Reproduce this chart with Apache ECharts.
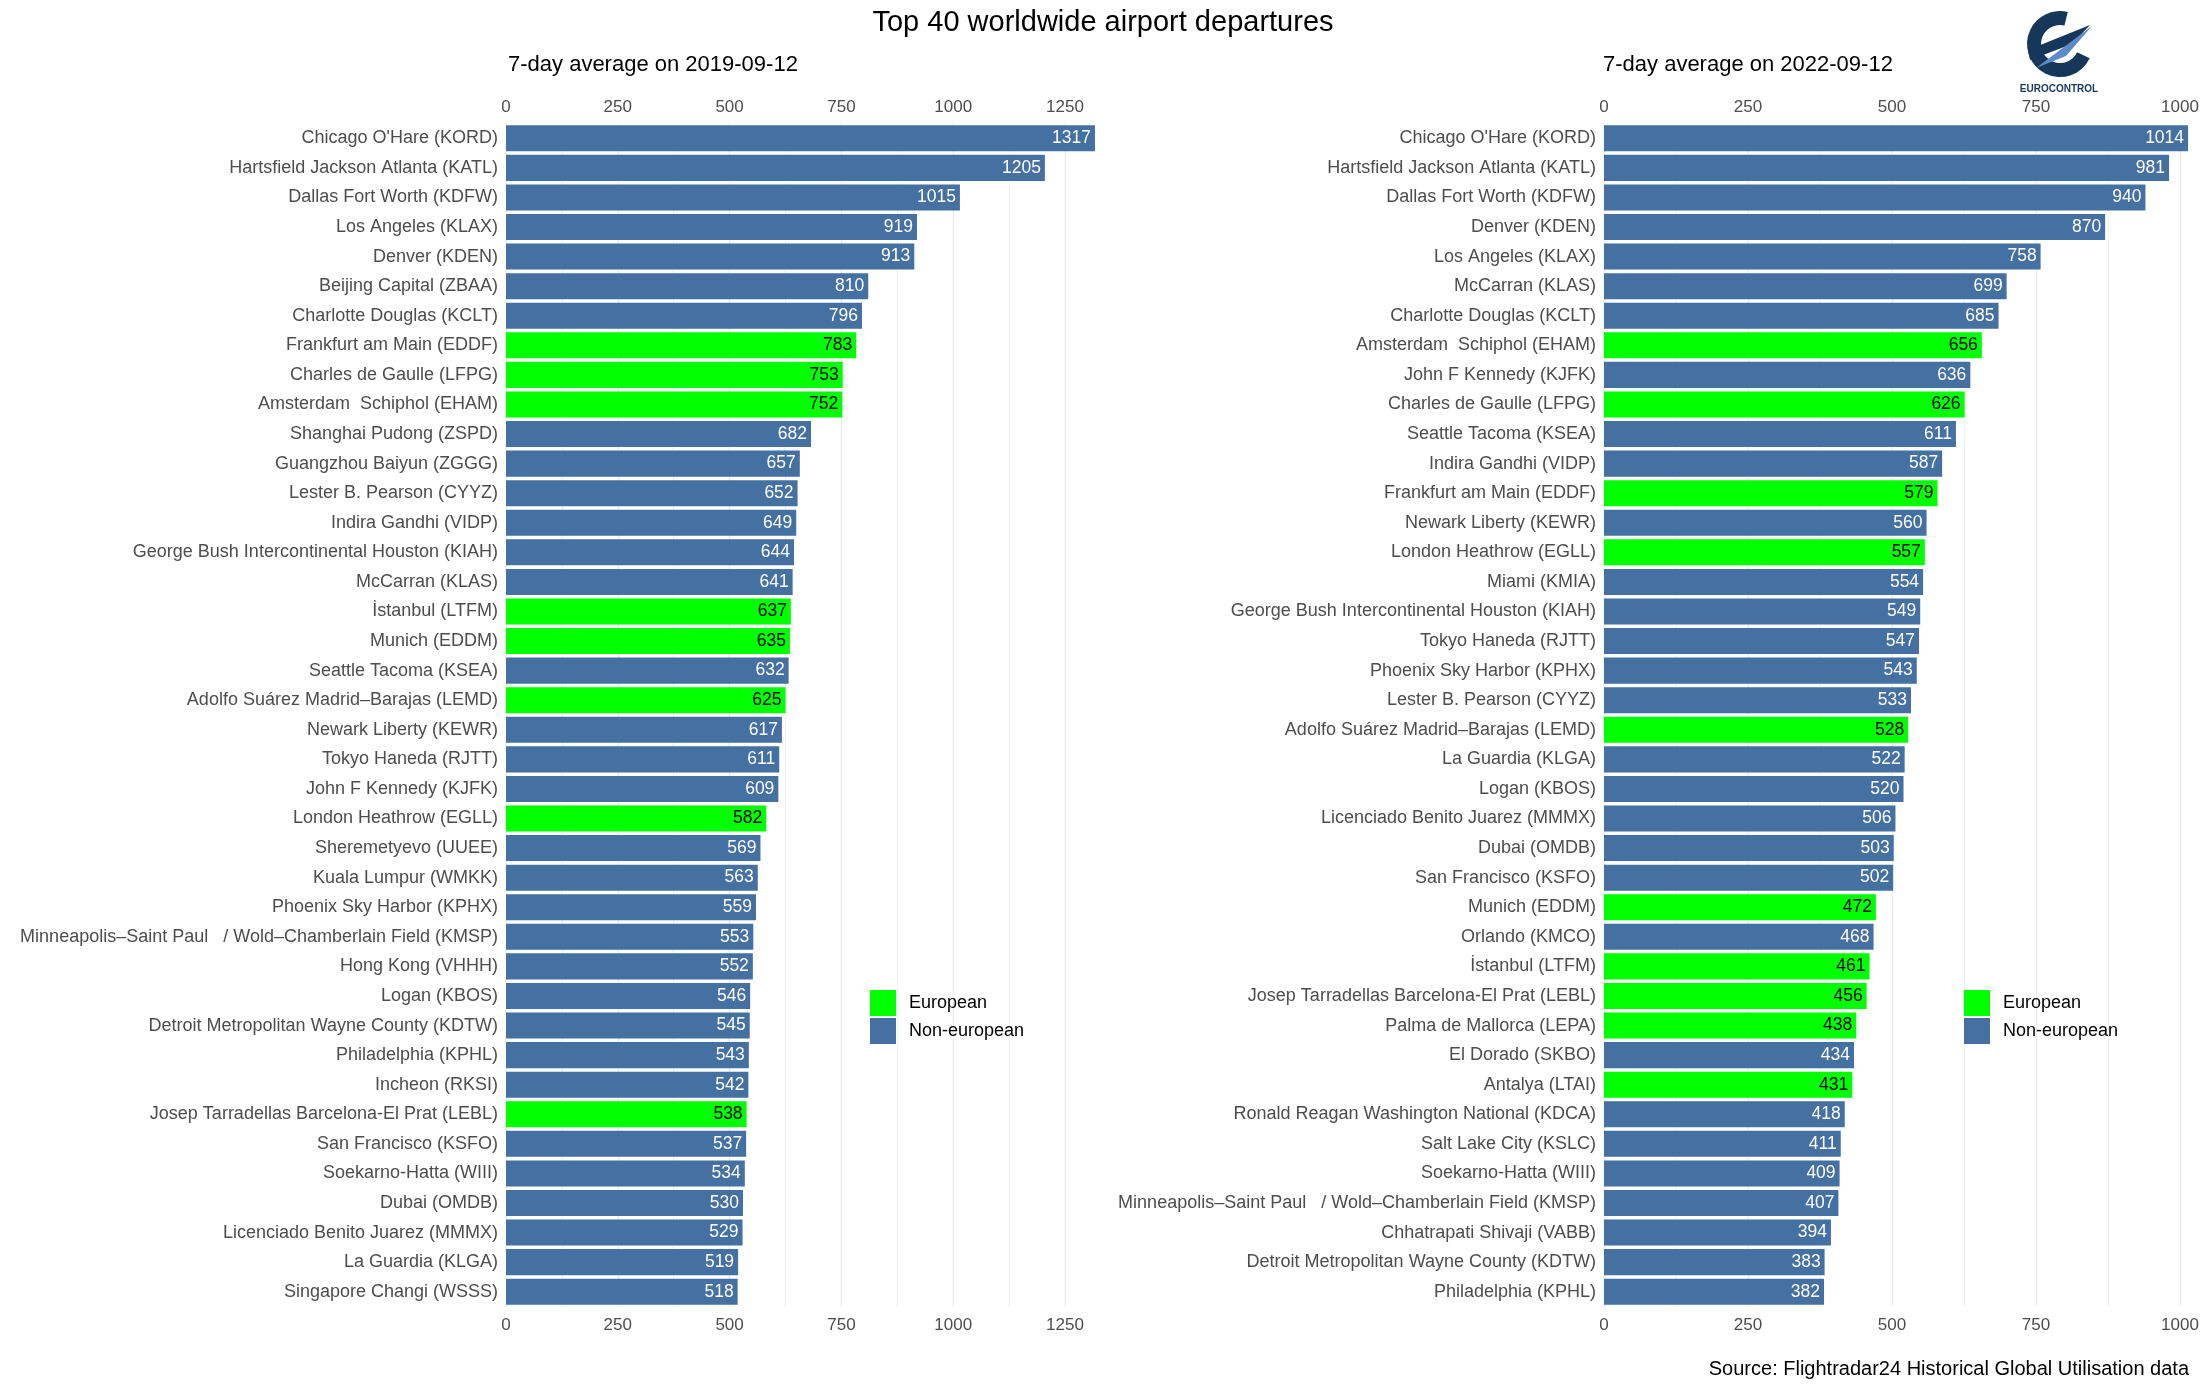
<!DOCTYPE html>
<html><head><meta charset="utf-8">
<script src="https://cdn.jsdelivr.net/npm/echarts@6/dist/echarts.min.js"></script>
<style>html,body{margin:0;padding:0;background:#fff}#c{width:2207px;height:1389px}</style>
</head><body><div id="c"></div>
<script>
const airports2019 = ["Chicago O'Hare (KORD)","Hartsfield Jackson Atlanta (KATL)","Dallas Fort Worth (KDFW)","Los Angeles (KLAX)","Denver (KDEN)","Beijing Capital (ZBAA)","Charlotte Douglas (KCLT)","Frankfurt am Main (EDDF)","Charles de Gaulle (LFPG)","Amsterdam  Schiphol (EHAM)","Shanghai Pudong (ZSPD)","Guangzhou Baiyun (ZGGG)","Lester B. Pearson (CYYZ)","Indira Gandhi (VIDP)","George Bush Intercontinental Houston (KIAH)","McCarran (KLAS)","İstanbul (LTFM)","Munich (EDDM)","Seattle Tacoma (KSEA)","Adolfo Suárez Madrid–Barajas (LEMD)","Newark Liberty (KEWR)","Tokyo Haneda (RJTT)","John F Kennedy (KJFK)","London Heathrow (EGLL)","Sheremetyevo (UUEE)","Kuala Lumpur (WMKK)","Phoenix Sky Harbor (KPHX)","Minneapolis–Saint Paul   / Wold–Chamberlain Field (KMSP)","Hong Kong (VHHH)","Logan (KBOS)","Detroit Metropolitan Wayne County (KDTW)","Philadelphia (KPHL)","Incheon (RKSI)","Josep Tarradellas Barcelona-El Prat (LEBL)","San Francisco (KSFO)","Soekarno-Hatta (WIII)","Dubai (OMDB)","Licenciado Benito Juarez (MMMX)","La Guardia (KLGA)","Singapore Changi (WSSS)"];
const departures2019 = [1317,1205,1015,919,913,810,796,783,753,752,682,657,652,649,644,641,637,635,632,625,617,611,609,582,569,563,559,553,552,546,545,543,542,538,537,534,530,529,519,518];
const region2019 = ["N","N","N","N","N","N","N","E","E","E","N","N","N","N","N","N","E","E","N","E","N","N","N","E","N","N","N","N","N","N","N","N","N","E","N","N","N","N","N","N"];

const airports2022 = ["Chicago O'Hare (KORD)","Hartsfield Jackson Atlanta (KATL)","Dallas Fort Worth (KDFW)","Denver (KDEN)","Los Angeles (KLAX)","McCarran (KLAS)","Charlotte Douglas (KCLT)","Amsterdam  Schiphol (EHAM)","John F Kennedy (KJFK)","Charles de Gaulle (LFPG)","Seattle Tacoma (KSEA)","Indira Gandhi (VIDP)","Frankfurt am Main (EDDF)","Newark Liberty (KEWR)","London Heathrow (EGLL)","Miami (KMIA)","George Bush Intercontinental Houston (KIAH)","Tokyo Haneda (RJTT)","Phoenix Sky Harbor (KPHX)","Lester B. Pearson (CYYZ)","Adolfo Suárez Madrid–Barajas (LEMD)","La Guardia (KLGA)","Logan (KBOS)","Licenciado Benito Juarez (MMMX)","Dubai (OMDB)","San Francisco (KSFO)","Munich (EDDM)","Orlando (KMCO)","İstanbul (LTFM)","Josep Tarradellas Barcelona-El Prat (LEBL)","Palma de Mallorca (LEPA)","El Dorado (SKBO)","Antalya (LTAI)","Ronald Reagan Washington National (KDCA)","Salt Lake City (KSLC)","Soekarno-Hatta (WIII)","Minneapolis–Saint Paul   / Wold–Chamberlain Field (KMSP)","Chhatrapati Shivaji (VABB)","Detroit Metropolitan Wayne County (KDTW)","Philadelphia (KPHL)"];
const departures2022 = [1014,981,940,870,758,699,685,656,636,626,611,587,579,560,557,554,549,547,543,533,528,522,520,506,503,502,472,468,461,456,438,434,431,418,411,409,407,394,383,382];
const region2022 = ["N","N","N","N","N","N","N","E","N","E","N","N","E","N","E","N","N","N","N","N","E","N","N","N","N","N","E","N","E","E","E","N","E","N","N","N","N","N","N","N"];

const ticks2019 = [0,250,500,750,1000,1250];
const ticks2022 = [0,250,500,750,1000];

const FONT = "'Liberation Sans', Arial, sans-serif";
const BLUE = '#4570a2';
const GREEN = '#00ff00';
const GRIDC = '#ebebeb';

function xAxes(gi, max, ticks) {
  const common = {type:'value', gridIndex: gi, min: 0, max: max, interval: 250};
  const lab = {fontSize: 17, color: '#4d4d4d', fontFamily: FONT,
    formatter: v => ticks.indexOf(v) >= 0 ? String(v) : ''};
  return [
    Object.assign({}, common, {position:'top', axisLine:{show:false}, axisTick:{show:false},
      axisLabel: Object.assign({margin: 8}, lab),
      splitLine:{show:true, showMaxLine:false, lineStyle:{color:GRIDC, width:1.4}}}),
    Object.assign({}, common, {position:'bottom', axisLine:{show:false}, axisTick:{show:false},
      axisLabel: Object.assign({margin: 10}, lab), splitLine:{show:false}}),
    Object.assign({}, common, {interval:125, position:'top', axisLine:{show:false}, axisTick:{show:false},
      axisLabel:{show:false},
      splitLine:{show:true, showMaxLine:false, lineStyle:{color:GRIDC, width:0.8}}})
  ];
}

function yAxis(gi, names) {
  return {type:'category', gridIndex: gi, data: names, inverse: true,
    axisLine:{show:false}, axisTick:{show:false}, splitLine:{show:false},
    axisLabel:{fontSize: 18, color:'#4d4d4d', fontFamily: FONT, margin: 8}};
}

function mkSeries(vals, reg, xi, yi, stackName) {
  const eu = vals.map((v,i) => reg[i] === 'E' ? v : '-');
  const ne = vals.map((v,i) => reg[i] === 'N' ? v : '-');
  const base = {type:'bar', xAxisIndex: xi, yAxisIndex: yi, stack: stackName,
    barCategoryGap: '12%', animation: false};
  return [
    Object.assign({}, base, {name:'European', data: eu, itemStyle:{color: GREEN},
      label:{show:true, position:'insideRight', distance: 4, fontSize: 17.5, color:'#000', fontFamily: FONT}}),
    Object.assign({}, base, {name:'Non-european', data: ne, itemStyle:{color: BLUE},
      label:{show:true, position:'insideRight', distance: 4, fontSize: 17.5, color:'#fff', fontFamily: FONT}})
  ];
}

const max2019 = 1340, max2022 = 1030;
const option = {
  backgroundColor: '#fff',
  animation: false,
  grid: [
    {left: 506, top: 123.5, width: max2019 * 0.4472, height: 1183, outerBoundsMode: 'none', containLabel: false},
    {left: 1604, top: 123.5, width: max2022 * 0.576, height: 1183, outerBoundsMode: 'none', containLabel: false}
  ],
  xAxis: xAxes(0, max2019, ticks2019).concat(xAxes(1, max2022, ticks2022)),
  yAxis: [yAxis(0, airports2019), yAxis(1, airports2022)],
  legend: [
    {orient:'vertical', left: 870, top: 990, itemWidth: 26, itemHeight: 26, itemGap: 2, padding: 0, icon:'rect',
      data:['European','Non-european'], textStyle:{fontSize: 18, color:'#000', fontFamily: FONT, padding:[0,0,0,8]}},
    {orient:'vertical', left: 1964, top: 990, itemWidth: 26, itemHeight: 26, itemGap: 2, padding: 0, icon:'rect',
      data:['European','Non-european'], textStyle:{fontSize: 18, color:'#000', fontFamily: FONT, padding:[0,0,0,8]}}
  ],
  series: mkSeries(departures2019, region2019, 0, 0, 's2019').concat(mkSeries(departures2022, region2022, 3, 1, 's2022')),
  graphic: [
    {type:'text', x: 1103, y: 23, style:{text:'Top 40 worldwide airport departures', font:'29px ' + FONT, fill:'#000', textAlign:'center', textVerticalAlign:'middle'}},
    {type:'text', x: 508, y: 65, style:{text:'7-day average on 2019-09-12', font:'22px ' + FONT, fill:'#000', textAlign:'left', textVerticalAlign:'middle'}},
    {type:'text', x: 1603, y: 65, style:{text:'7-day average on 2022-09-12', font:'22px ' + FONT, fill:'#000', textAlign:'left', textVerticalAlign:'middle'}},
    {type:'text', x: 2189, y: 1369, style:{text:'Source: Flightradar24 Historical Global Utilisation data', font:'20px ' + FONT, fill:'#000', textAlign:'right', textVerticalAlign:'middle'}},
    {type:'sector', shape:{cx: 2060, cy: 44, r: 33, r0: 19, startAngle: 0.45, endAngle: 4.95}, style:{fill:'#16375a'}},
    {type:'polygon', shape:{points:[[2028,50],[2090,25],[2072,44],[2030,60]]}, style:{fill:'#16375a'}},
    {type:'polygon', shape:{points:[[2036,68],[2092,26],[2066,56]]}, style:{fill:'#5b8cc8'}},
    {type:'text', x: 2059, y: 89, style:{text:'EUROCONTROL', font:'bold 10px ' + FONT, fill:'#16375a', textAlign:'center', textVerticalAlign:'middle'}}
  ]
};
const chart = echarts.init(document.getElementById('c'), null, {renderer:'canvas'});
chart.setOption(option);
</script>
</body></html>
